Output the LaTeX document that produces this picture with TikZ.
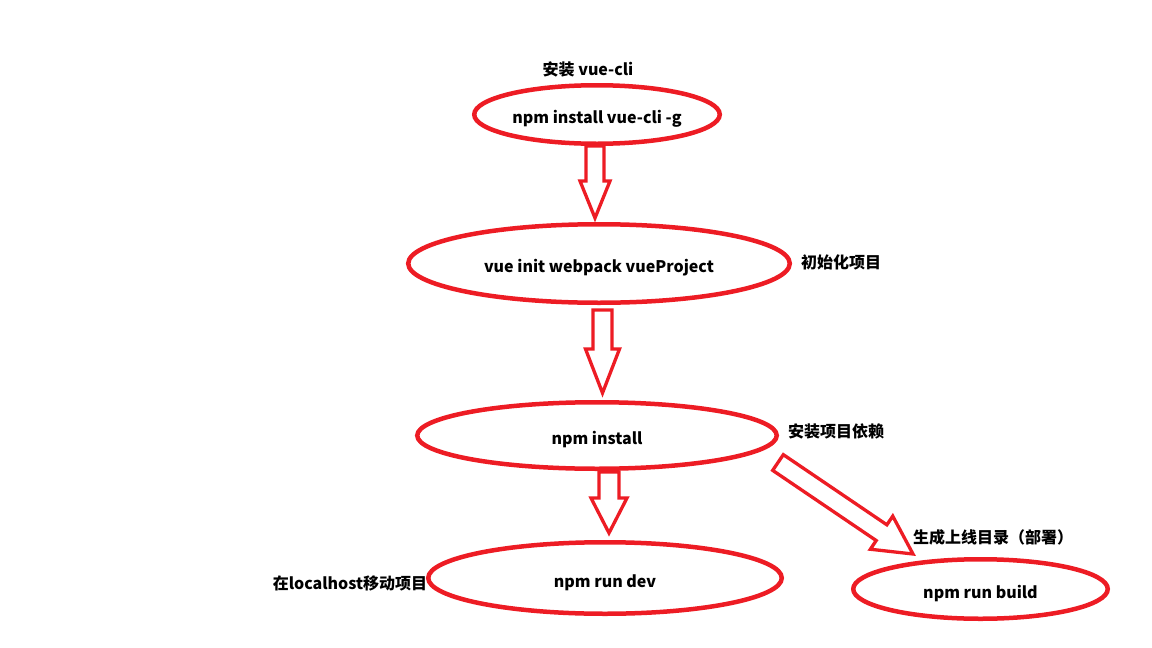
\documentclass[tikz,border=0pt]{standalone}
\usepackage{fontspec}
\setmainfont{Noto Sans CJK SC}
\usetikzlibrary{shapes.geometric,calc}
\definecolor{paintred}{HTML}{ED1C24}
\tikzset{
  cmd/.style={ellipse,draw=paintred,line width=4.5pt,inner sep=0pt,
    text height=18pt,text depth=0pt,
    font=\bfseries\fontsize{16}{19}\selectfont},
  note/.style={inner sep=0pt,font=\bfseries\fontsize{16}{19}\selectfont},
  hollowarrow/.style={draw=paintred,line width=3.3pt,fill=white}
}
% #1 tail, #2 tip, #3 head length, #4 head half width, #5 shaft half width
\newcommand{\blockarrow}[5]{%
  \coordinate (ba-n) at ($(#2)!#3!(#1)$);
  \draw[hollowarrow] ($(#1)!#5!90:(#2)$) -- ($(ba-n)!#5!90:(#2)$)
    -- ($(ba-n)!#4!90:(#2)$) -- (#2) -- ($(ba-n)!#4!-90:(#2)$)
    -- ($(ba-n)!#5!-90:(#2)$) -- ($(#1)!#5!-90:(#2)$) -- cycle;
}
\begin{document}
\begin{tikzpicture}[x=1pt,y=-1pt]
  \useasboundingbox (0,0) rectangle (1152,648);
  \node[cmd,minimum width=245.5pt,minimum height=58.5pt] (cli) at(597,114.5) {npm install vue-cli -g};
  \node[cmd,minimum width=381.5pt,minimum height=78.5pt] (init) at(599,263.5) {vue init webpack vueProject};
  \node[cmd,minimum width=359.5pt,minimum height=66.5pt] (inst) at(597,435.5) {npm install};
  \node[cmd,minimum width=353.5pt,minimum height=71.5pt] (dev) at(605,578) {npm run dev};
  \node[cmd,minimum width=254.5pt,minimum height=59.5pt] (build) at(980.5,589) {npm run build};
  \node[note] (l-cli) at(588,69) {安装 vue-cli};
  \node[note] (l-init) at(841,262) {初始化项目};
  \node[note] (l-inst) at(836,431) {安装项目依赖};
  \node[note] (l-dev) at(350,583) {在localhost移动项目};
  \node[note] (l-build) at(993,537) {生成上线目录（部署）};
  \coordinate (a1s) at ($(cli.south)+(-2,0)$);
  \coordinate (a1e) at ($(init.north)+(-4,-4)$);
  \coordinate (a2s) at ($(init.south)+(3.5,5)$);
  \coordinate (a2e) at ($(inst.north)+(5.5,-7)$);
  \coordinate (a3s) at ($(inst.south)+(12,1)$);
  \coordinate (a3e) at ($(dev.north)+(4,-7)$);
  \coordinate (a4s) at ($(inst.east)+(-1,27)$);
  \coordinate (a4e) at ($(build.north)+(-67.5,-3)$);
  \blockarrow{a1s}{a1e}{37pt}{15pt}{9pt}
  \blockarrow{a2s}{a2e}{44pt}{17pt}{9.5pt}
  \blockarrow{a3s}{a3e}{35pt}{18pt}{10pt}
  \blockarrow{a4s}{a4e}{38pt}{20pt}{9.5pt}
\end{tikzpicture}
\end{document}
